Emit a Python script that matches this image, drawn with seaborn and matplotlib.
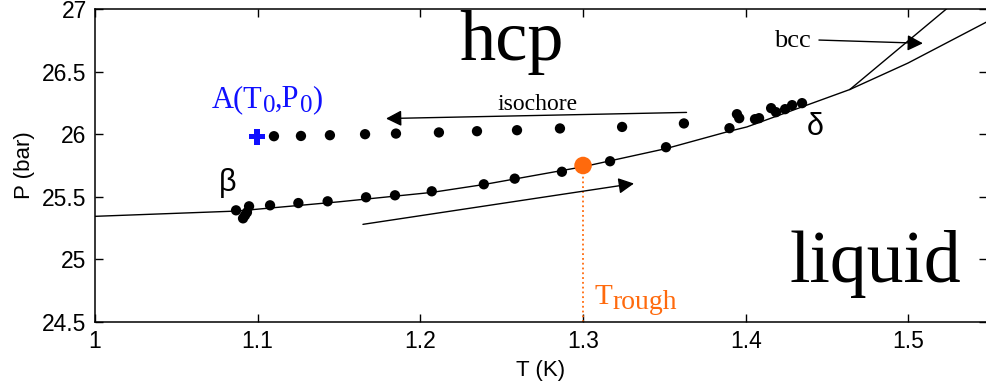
import matplotlib
matplotlib.use("Agg")
import matplotlib.pyplot as plt
import matplotlib.transforms as mtrans
import seaborn as sns

# ---------------- data ----------------
# measured points along the melting curve (lower branch)
melt_T = [1.0867, 1.0947, 1.0934, 1.0910, 1.0922, 1.1076, 1.1250, 1.1430, 1.1666,
          1.1844, 1.2070, 1.2390, 1.2580, 1.2870, 1.3166, 1.3510,
          1.3900, 1.3946, 1.3960, 1.4057, 1.4082, 1.4156, 1.4186, 1.4242, 1.4285, 1.4346]
melt_P = [25.392, 25.424, 25.376, 25.328, 25.352, 25.432, 25.450, 25.464, 25.496,
          25.512, 25.544, 25.600, 25.645, 25.700, 25.784, 25.896,
          26.048, 26.160, 26.128, 26.120, 26.128, 26.208, 26.176, 26.200, 26.232, 26.248]

# isochore points
iso_T = [1.1100, 1.1266, 1.1444, 1.1660, 1.1850, 1.2114, 1.2348, 1.2594, 1.2858, 1.3240, 1.3620]
iso_P = [25.984, 25.986, 25.992, 26.000, 26.005, 26.014, 26.024, 26.032, 26.046, 26.058, 26.086]

# starting point A(T0, P0)
A_T = [1.0996]
A_P = [25.980]

# roughening point
rough_T = [1.30]
rough_P = [25.75]

# phase boundaries
hcp_liq_T = [1.0, 1.087, 1.15, 1.207, 1.239, 1.30, 1.351, 1.39, 1.4007, 1.464]
hcp_liq_P = [25.344, 25.386, 25.46, 25.535, 25.598, 25.74, 25.885, 26.024, 26.058, 26.357]
bcc_liq_T = [1.464, 1.4997, 1.5483]
bcc_liq_P = [26.357, 26.568, 26.898]
hcp_bcc_T = [1.464, 1.5224, 1.53]
hcp_bcc_P = [26.357, 26.990, 27.072]

x_ticks = [1.0, 1.1, 1.2, 1.3, 1.4, 1.5]
x_ticklabels = ["1", "1.1", "1.2", "1.3", "1.4", "1.5"]
y_ticks = [24.5, 25.0, 25.5, 26.0, 26.5, 27.0]
y_ticklabels = ["24.5", "25", "25.5", "26", "26.5", "27"]

# ---------------- style ----------------
sns.set_style("ticks")
plt.rcParams["font.family"] = ["Liberation Sans", "DejaVu Sans"]
plt.rcParams["text.color"] = "black"
plt.rcParams["axes.labelcolor"] = "black"
plt.rcParams["xtick.color"] = "black"
plt.rcParams["ytick.color"] = "black"

SERIF = ["Liberation Serif", "DejaVu Serif"]
ORANGE = "#ff6a0d"
BLUE = "#1010ff"

fig = plt.figure(figsize=(9.87, 3.87), dpi=100)
ax = fig.add_axes([95 / 987, 1 - 322 / 387, 1 - 95 / 987, (322 - 9) / 387])

# phase boundary lines
for T, P in [(hcp_liq_T, hcp_liq_P), (bcc_liq_T, bcc_liq_P), (hcp_bcc_T, hcp_bcc_P)]:
    sns.lineplot(x=T, y=P, ax=ax, color="black", lw=1.0, sort=False, estimator=None)

# roughening dotted line
ax.plot([rough_T[0], rough_T[0]], [24.5, rough_P[0]], color=ORANGE, lw=1.3, ls=":")

# data points
sns.scatterplot(x=melt_T, y=melt_P, ax=ax, color="black", s=55, edgecolor="none", zorder=3)
sns.scatterplot(x=iso_T, y=iso_P, ax=ax, color="black", s=55, edgecolor="none", zorder=3)
sns.scatterplot(x=A_T, y=A_P, ax=ax, color=BLUE, marker="P", s=130, edgecolor="none", zorder=4)
sns.scatterplot(x=rough_T, y=rough_P, ax=ax, color=ORANGE, s=160, edgecolor="none", zorder=4)

# arrows
aprops = dict(arrowstyle="-|>,head_length=0.47,head_width=0.24", mutation_scale=20,
              color="black", lw=1.0, shrinkA=0, shrinkB=0)
ax.annotate("", xy=(1.1789, 26.125), xytext=(1.3636, 26.174), arrowprops=aprops)
ax.annotate("", xy=(1.3313, 25.606), xytext=(1.1647, 25.28), arrowprops=aprops)
ax.annotate("", xy=(1.5089, 26.726), xytext=(1.445, 26.752), arrowprops=aprops)

# axes
ax.set_xlim(1.0, 1.5483)
ax.set_ylim(24.5, 27.0)
ax.set_xticks(x_ticks)
ax.set_xticklabels(x_ticklabels)
ax.set_yticks(y_ticks)
ax.set_yticklabels(y_ticklabels)
ax.set_xlabel("T (K)", fontsize=16, labelpad=5)
ax.set_ylabel("P (bar)", fontsize=16, labelpad=5)
ax.tick_params(direction="in", top=True, right=True, length=6, width=1.0,
               labelsize=16.5, pad=6, color="black")
for s in ax.spines.values():
    s.set_visible(True)
    s.set_linewidth(1.1)
    s.set_color("black")

# texts
ax.text(1.2563, 26.592, "hcp", family=SERIF, fontsize=52, ha="center", va="baseline")
ax.text(1.4794, 24.816, "liquid", family=SERIF, fontsize=53, ha="center", va="baseline")
ax.text(1.2723, 26.19, "isochore", family=SERIF, fontsize=17, ha="center", va="baseline")
ax.text(1.4284, 26.70, "bcc", family=SERIF, fontsize=19, ha="center", va="baseline")
ax.text(1.0817, 25.55, "β", fontsize=22, ha="center", va="baseline")
ax.text(1.4425, 25.99, "δ", fontsize=22, ha="center", va="baseline")


def seq_text(x, y, pieces, color):
    """Draw consecutive text pieces (string, fontsize, drop in px) starting at data (x, y)."""
    fig.canvas.draw()
    renderer = fig.canvas.get_renderer()
    dx = 0.0
    for string, size, drop in pieces:
        tr = mtrans.offset_copy(ax.transData, fig=fig, x=dx / fig.dpi * 72,
                                y=-drop / fig.dpi * 72, units="points")
        t = ax.text(x, y, string, family=SERIF, fontsize=size, color=color,
                    ha="left", va="baseline", transform=tr)
        bb = t.get_window_extent(renderer)
        dx += bb.width


seq_text(1.0719, 26.216, [("A(T", 22, 0), ("0", 18, 5), (",P", 22, 0), ("0", 18, 5), (")", 22, 0)], BLUE)
seq_text(1.3073, 24.64, [("T", 21, 0), ("rough", 20, 5)], ORANGE)

fig.savefig("out.png", dpi=100)
